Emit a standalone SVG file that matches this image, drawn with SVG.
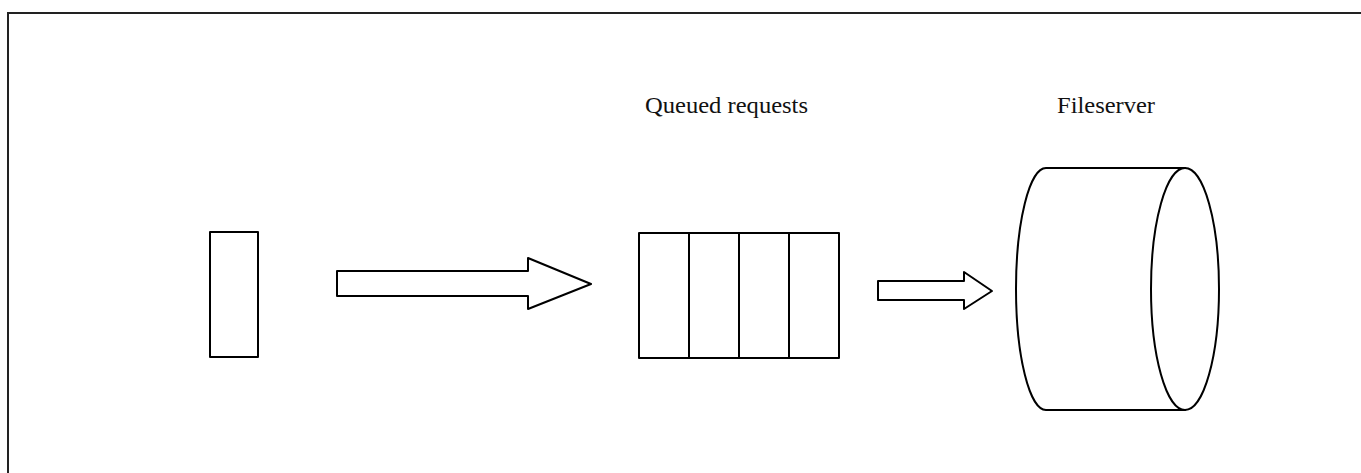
<svg xmlns="http://www.w3.org/2000/svg" width="1361" height="473" viewBox="0 0 1361 473">
  <style>
    .frame { fill: none; stroke: #222; stroke-width: 2; }
    .shape { fill: #fff; stroke: #000; stroke-width: 2; stroke-linejoin: round; }
    .label { font-family: "Liberation Serif", "Times New Roman", serif; font-size: 24px; fill: #111; }
  </style>
  <rect width="1361" height="473" fill="#fff"/>
  <!-- page frame: top and left edges only -->
  <path class="frame" d="M8 473 V13 H1361"/>

  <g id="request">
    <rect class="shape" x="210" y="232" width="48" height="125"/>
  </g>

  <g id="queue">
    <text class="label" x="645" y="113" textLength="163" lengthAdjust="spacingAndGlyphs">Queued requests</text>
    <rect class="shape" x="639" y="233" width="200" height="125"/>
    <line class="shape" x1="689" y1="233" x2="689" y2="358"/>
    <line class="shape" x1="739" y1="233" x2="739" y2="358"/>
    <line class="shape" x1="789" y1="233" x2="789" y2="358"/>
  </g>

  <g id="fileserver">
    <text class="label" x="1057" y="113" textLength="98" lengthAdjust="spacingAndGlyphs">Fileserver</text>
    <path class="shape" d="M1046 168 H1185 V410 H1046 A30 121 0 0 1 1046 168 Z"/>
    <ellipse class="shape" cx="1185" cy="289" rx="34" ry="121"/>
  </g>

  <g id="connectors">
    <polygon class="shape" points="337,271 528,271 528,258 591,284 528,309 528,296 337,296"/>
    <polygon class="shape" points="878,281 964,281 964,272 992,291 964,309 964,300 878,300"/>
  </g>
</svg>
